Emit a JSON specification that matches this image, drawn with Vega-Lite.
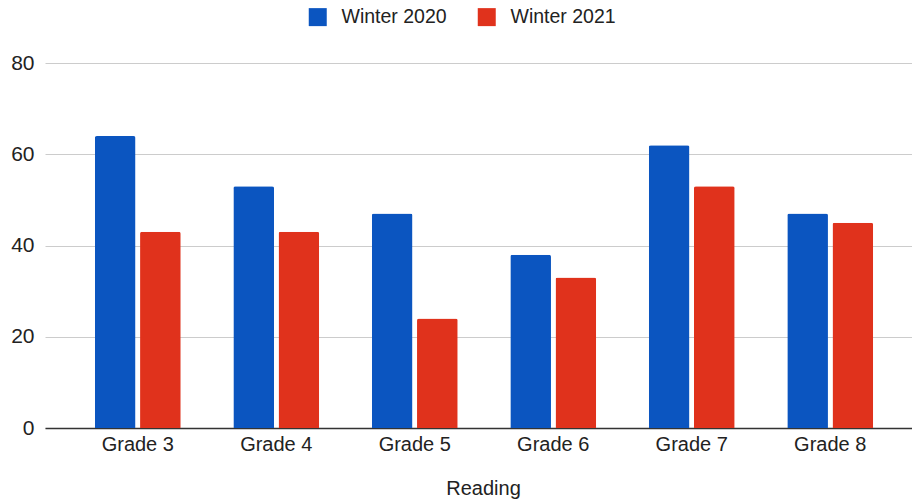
{
  "$schema": "https://vega.github.io/schema/vega-lite/v6.json",
  "autosize": "none",
  "width": 878,
  "height": 365,
  "padding": {"left": 45, "top": 63, "right": 0, "bottom": 76},
  "background": "white",
  "config": {
    "font": "Liberation Sans",
    "view": {"stroke": null}
  },
  "data": {
    "values": [
      {"grade": "Grade 3", "series": "Winter 2020", "value": 64},
      {"grade": "Grade 3", "series": "Winter 2021", "value": 43},
      {"grade": "Grade 4", "series": "Winter 2020", "value": 53},
      {"grade": "Grade 4", "series": "Winter 2021", "value": 43},
      {"grade": "Grade 5", "series": "Winter 2020", "value": 47},
      {"grade": "Grade 5", "series": "Winter 2021", "value": 24},
      {"grade": "Grade 6", "series": "Winter 2020", "value": 38},
      {"grade": "Grade 6", "series": "Winter 2021", "value": 33},
      {"grade": "Grade 7", "series": "Winter 2020", "value": 62},
      {"grade": "Grade 7", "series": "Winter 2021", "value": 53},
      {"grade": "Grade 8", "series": "Winter 2020", "value": 47},
      {"grade": "Grade 8", "series": "Winter 2021", "value": 45}
    ]
  },
  "mark": {"type": "bar", "cornerRadiusTopLeft": 2, "cornerRadiusTopRight": 2},
  "encoding": {
    "x": {
      "field": "grade",
      "type": "nominal",
      "sort": null,
      "scale": {"paddingInner": 0.38, "paddingOuter": 0.36},
      "axis": {
        "title": "Reading",
        "titleFontSize": 20,
        "titleFontWeight": "normal",
        "titleColor": "#222222",
        "titlePadding": 24,
        "titleX": 438,
        "labelAngle": 0,
        "labelFontSize": 20,
        "labelColor": "#222222",
        "labelPadding": 6,
        "ticks": false,
        "domain": true,
        "domainColor": "#333333",
        "domainWidth": 1.5
      }
    },
    "xOffset": {
      "field": "series",
      "type": "nominal",
      "scale": {"paddingInner": 0.1}
    },
    "y": {
      "field": "value",
      "type": "quantitative",
      "scale": {"domain": [0, 80]},
      "axis": {
        "title": null,
        "values": [0, 20, 40, 60, 80],
        "labelFontSize": 21,
        "labelColor": "#222222",
        "labelPadding": 11,
        "ticks": false,
        "domain": false,
        "gridColor": "#cccccc",
        "gridWidth": 1
      }
    },
    "color": {
      "field": "series",
      "type": "nominal",
      "scale": {"domain": ["Winter 2020", "Winter 2021"], "range": ["#0b55c0", "#e0321c"]},
      "legend": {
        "title": null,
        "orient": "none",
        "direction": "horizontal",
        "legendX": 263,
        "legendY": -56,
        "symbolType": "square",
        "symbolSize": 324,
        "symbolStrokeWidth": 0,
        "labelFontSize": 19.5,
        "labelColor": "#222222",
        "labelOffset": 14,
        "columnPadding": 30
      }
    }
  }
}
